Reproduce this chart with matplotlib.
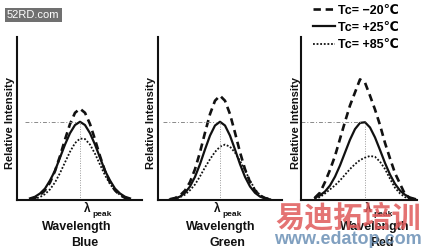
import matplotlib
matplotlib.use("Agg")
import matplotlib.pyplot as plt

W, H = 426, 250

# relative wavelength, offset from lambda_peak
offset = [-50, -45, -40, -35, -30, -25, -20, -15, -10, -5, 0,
          5, 10, 15, 20, 25, 30, 35, 40, 45, 50]

# relative intensity, one list per temperature
blue_m20 = [0.006, 0.013, 0.030, 0.059, 0.107, 0.178, 0.269, 0.371, 0.466, 0.535, 0.560,
            0.535, 0.466, 0.371, 0.269, 0.178, 0.107, 0.059, 0.030, 0.013, 0.006]
blue_p25 = [0.010, 0.020, 0.040, 0.070, 0.120, 0.180, 0.260, 0.340, 0.410, 0.460, 0.480,
            0.460, 0.410, 0.340, 0.260, 0.180, 0.120, 0.070, 0.040, 0.020, 0.010]
blue_p85 = [0.004, 0.008, 0.018, 0.036, 0.065, 0.108, 0.165, 0.231, 0.296, 0.349, 0.377,
            0.374, 0.340, 0.284, 0.217, 0.152, 0.098, 0.058, 0.031, 0.016, 0.007]

green_m20 = [0.005, 0.012, 0.028, 0.058, 0.110, 0.189, 0.293, 0.413, 0.527, 0.609, 0.640,
             0.609, 0.527, 0.413, 0.293, 0.189, 0.110, 0.058, 0.028, 0.012, 0.005]
green_p25 = [0.004, 0.009, 0.021, 0.044, 0.083, 0.142, 0.220, 0.310, 0.395, 0.457, 0.480,
             0.457, 0.395, 0.310, 0.220, 0.142, 0.083, 0.044, 0.021, 0.009, 0.004]
green_p85 = [0.003, 0.007, 0.017, 0.033, 0.060, 0.095, 0.145, 0.200, 0.250, 0.295, 0.327,
             0.340, 0.327, 0.291, 0.240, 0.183, 0.120, 0.065, 0.030, 0.012, 0.005]

red_m20 = [0.015, 0.045, 0.110, 0.185, 0.270, 0.375, 0.480, 0.580, 0.660, 0.740, 0.720,
           0.640, 0.555, 0.460, 0.350, 0.255, 0.165, 0.100, 0.035, 0.010, 0.003]
red_p25 = [0.014, 0.028, 0.052, 0.089, 0.143, 0.212, 0.291, 0.370, 0.435, 0.473, 0.477,
           0.445, 0.384, 0.307, 0.227, 0.156, 0.099, 0.058, 0.032, 0.016, 0.007]
red_p85 = [0.005, 0.018, 0.040, 0.065, 0.090, 0.120, 0.155, 0.190, 0.220, 0.245, 0.260,
           0.270, 0.265, 0.235, 0.190, 0.130, 0.075, 0.040, 0.018, 0.007, 0.002]

colors = ["Blue", "Green", "Red"]
series = [(blue_m20, blue_p25, blue_p85),
          (green_m20, green_p25, green_p85),
          (red_m20, red_p25, red_p85)]
temp_labels = ["Tc= \u221220\u2103", "Tc= +25\u2103", "Tc= +85\u2103"]
ref_level = 0.48          # +25C peak, marked by the dotted guides

plt.rcParams['font.family'] = ['Liberation Sans', 'DejaVu Sans']
ink = "#111111"

fig = plt.figure(figsize=(W / 100, H / 100), dpi=100)


def px_box(left, right, top=37, bottom=200):
    # pixel edges -> figure fraction [l, b, w, h]
    return [left / W, 1 - bottom / H, (right - left) / W, (bottom - top) / H]


def ftext(x, y, s, **kw):
    fig.text(x / W, 1 - y / H, s, **kw)


boxes = [(17, 142), (158, 282), (301, 417)]
xlims = [(-63, 62), (-62, 62), (-64, 52)]
guide_start = [-55, -57, -64]
label_pos = {  # ylabel x, lambda x, wavelength x, colour-name x
    "Blue": (10, 87, 77, 85),
    "Green": (151, 217, 221, 227),
    "Red": (296, 368, 375, 382),
}

for i, name in enumerate(colors):
    m20, p25, p85 = series[i]
    ax = fig.add_axes(px_box(*boxes[i]))
    l1, = ax.plot(offset, m20, color=ink, lw=1.9, ls=(0, (2.8, 1.8)))
    l2, = ax.plot(offset, p25, color=ink, lw=1.6)
    l3, = ax.plot(offset, p85, color=ink, lw=1.3, ls=(0, (1, 1)))
    ax.hlines(ref_level, guide_start[i], -4, color="#8a8a8a", lw=0.7,
              ls=(0, (4, 2, 1, 2)))
    ax.vlines(0, 0, ref_level, color="#9a9a9a", lw=0.7, ls=(0, (1, 1.5)))
    ax.set_xlim(*xlims[i])
    ax.set_ylim(0, 1)
    for side in ["top", "right"]:
        ax.spines[side].set_visible(False)
    for side in ["left", "bottom"]:
        ax.spines[side].set_linewidth(1.5)
        ax.spines[side].set_color(ink)
    ax.set_xticks([])
    ax.set_yticks([])
    ax.patch.set_alpha(0)

    yx, lx, wx, cx = label_pos[name]
    ftext(yx, 123, "Relative Intensity", rotation=90, ha="center", va="center",
          fontsize=8, fontweight="bold", color=ink)
    ftext(lx, 209, "\u03bb", ha="center", va="center", fontsize=8.5,
          fontweight="bold", color=ink)
    ftext(lx + 5, 215, "peak", ha="left", va="center", fontsize=6,
          fontweight="bold", color=ink)
    ftext(wx, 227, "Wavelength", ha="center", va="center", fontsize=9,
          fontweight="bold", color=ink)
    ftext(cx, 243, name, ha="center", va="center", fontsize=9,
          fontweight="bold", color=ink)

fig.legend([l1, l2, l3], temp_labels, loc="upper left",
           bbox_to_anchor=(313 / W, 1 - 4.5 / H), frameon=False,
           prop={"size": 9, "weight": "bold"}, handlelength=1.75,
           handletextpad=0.25, labelspacing=0.42, borderpad=0, borderaxespad=0)

# site watermarks
ftext(7, 15, "52RD.com", ha="left", va="center", fontsize=8, color="white",
      bbox=dict(facecolor="#707070", edgecolor="none", pad=1.5))
ftext(348, 217, "易迪拓培训", ha="center", va="center", fontsize=21,
      fontweight="bold", color="#e05a5a", alpha=0.85,
      family=["Noto Sans CJK SC", "DejaVu Sans"])
ftext(348, 240, "www.edatop.com", ha="center", va="center", fontsize=13,
      fontweight="bold", color="#6a8fb5", alpha=0.85)

fig.savefig("out.png", dpi=100)
